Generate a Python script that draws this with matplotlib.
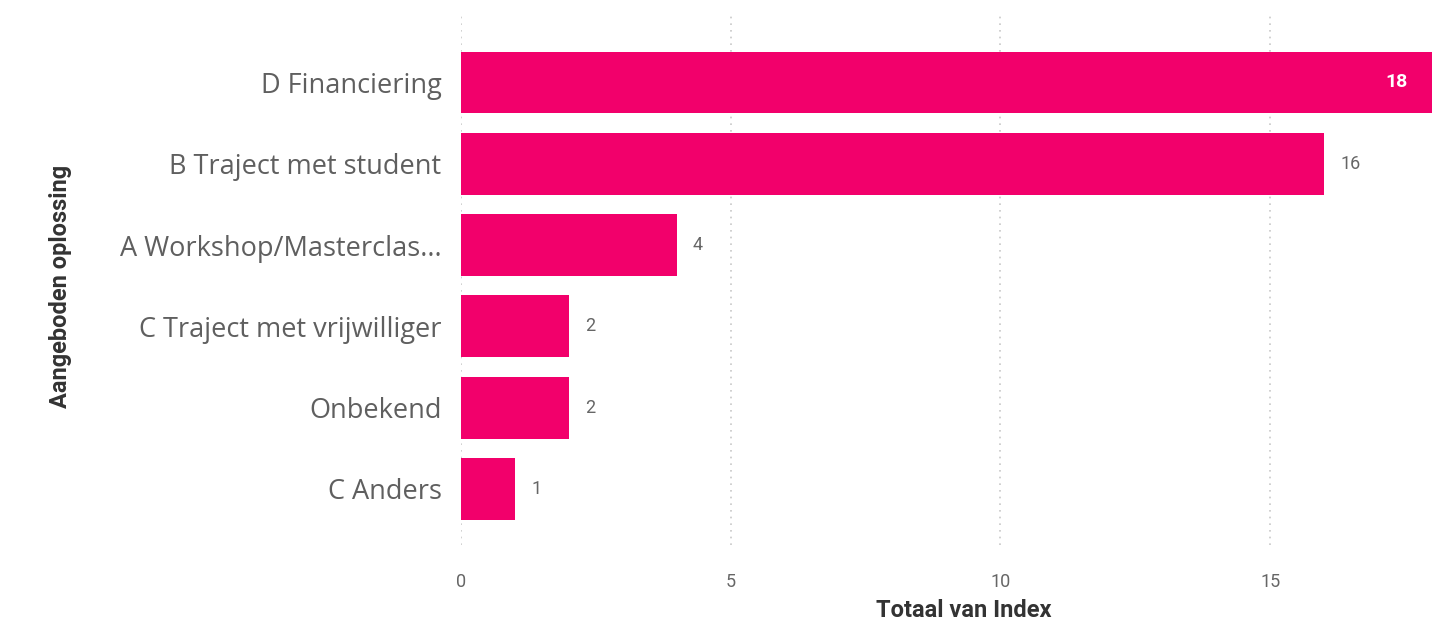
import matplotlib
matplotlib.use("Agg")
import matplotlib.pyplot as plt

categories = [
    "D Financiering",
    "B Traject met student",
    "A Workshop/Masterclas...",
    "C Traject met vrijwilliger",
    "Onbekend",
    "C Anders",
]
values = [18, 16, 4, 2, 2, 1]
x_ticks = [0, 5, 10, 15]

bar_color = "#F2006B"
label_font = ["Open Sans", "DejaVu Sans"]
num_font = ["Roboto", "DejaVu Sans"]

fig = plt.figure(figsize=(14.42, 6.26), dpi=100)
ax = fig.add_axes([461 / 1442, 1 - 545 / 626, (1432 - 461) / 1442, (545 - 15) / 626])

y = list(range(len(categories)))
ax.barh(y, values, height=0.76, color=bar_color, zorder=2)

ax.set_xlim(0, 18)
ax.set_ylim(5.69, -0.83)

ax.set_yticks(y)
ax.set_yticklabels(categories, fontsize=19.5, color="#5f5f5f", family=label_font)
ax.set_xticks(x_ticks)
ax.set_xticklabels([str(t) for t in x_ticks], fontsize=13, color="#666666", family=num_font)
ax.tick_params(axis="both", length=0)
ax.tick_params(axis="y", pad=14)
ax.tick_params(axis="x", pad=20)

ax.grid(axis="x", color="#c8c8c8", linestyle=(0, (1, 3)), linewidth=1.2, zorder=0)
for s in ax.spines.values():
    s.set_visible(False)

# value labels: inside the bar when it fills the axis, otherwise just past the end
for yi, v in zip(y, values):
    if v >= 18:
        ax.text(v - 0.45, yi, str(v), ha="right", va="center", fontsize=14,
                color="white", fontweight="bold", family=num_font)
    else:
        ax.text(v + 0.3, yi, str(v), ha="left", va="center", fontsize=13,
                color="#666666", family=num_font)

ax.set_xlabel("Totaal van Index", fontsize=17, color="#333333", fontweight="bold",
              family=num_font, labelpad=6)
ax.xaxis.label.set_x(0.518)
fig.text(60 / 1442, 1 - 286 / 626, "Aangeboden oplossing", rotation=90,
         ha="center", va="center", fontsize=17, color="#333333", fontweight="bold",
         family=num_font)

fig.savefig("out.png", dpi=100, facecolor="white")
